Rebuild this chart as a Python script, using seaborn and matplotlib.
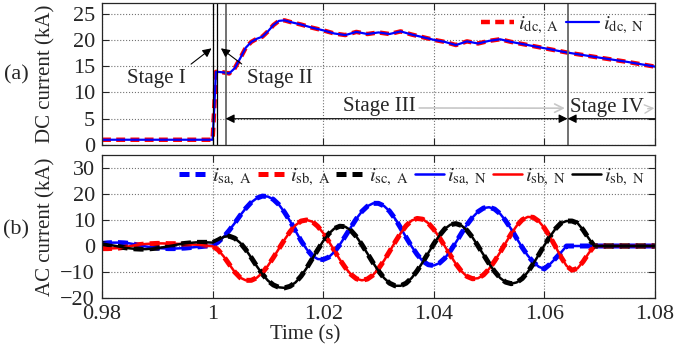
import numpy as np
import pandas as pd
import matplotlib
matplotlib.use('Agg')
import matplotlib.pyplot as plt
import seaborn as sns

# DC current (kA)
dc_time = [0.98, 0.99, 1.0, 1.0003, 1.0006, 1.001, 1.002, 1.003, 1.004, 1.005, 1.006,
           1.007, 1.008, 1.009, 1.010, 1.011, 1.012, 1.013, 1.014, 1.016, 1.018, 1.020,
           1.022, 1.024, 1.026, 1.028, 1.030, 1.032, 1.034, 1.036, 1.038, 1.040, 1.042,
           1.044, 1.046, 1.048, 1.050, 1.052, 1.054, 1.056, 1.058, 1.060, 1.064, 1.070,
           1.075, 1.080]
dc_current = [1.0, 1.0, 1.0, 7.0, 13.9, 13.9, 13.8, 13.6, 14.6, 16.5, 18.5,
              19.6, 20.2, 20.6, 21.6, 22.8, 23.6, 23.7, 23.4, 22.9, 22.3, 21.8,
              21.2, 20.9, 21.5, 21.1, 21.4, 21.1, 21.6, 21.0, 20.5, 20.0, 19.6,
              19.0, 19.7, 19.3, 19.8, 20.1, 19.6, 19.2, 18.8, 18.4, 17.6, 16.6,
              15.8, 14.9]

# AC phase currents (kA), 1 ms samples from 0.98 s to 1.08 s
ac_time = [round(0.98 + 0.001 * k, 3) for k in range(101)]
i_sa = [1.0, 1.2, 1.3, 1.3, 1.2, 1.0, 0.6, 0.2, -0.2, -0.5,
        -0.8, -0.9, -1.0, -1.0, -0.9, -0.8, -0.6, -0.4, -0.2, 0.0,
        0.2, 1.5, 3.5, 6.0, 8.8, 11.8, 14.5, 16.8, 18.4, 19.2,
        19.0, 17.9, 15.9, 13.0, 9.6, 5.8, 2.0, -1.2, -3.7, -5.0,
        -5.2, -4.3, -2.3, 0.5, 3.8, 7.2, 10.5, 13.3, 15.3, 16.4,
        16.4, 15.4, 13.4, 10.5, 7.0, 3.3, -0.2, -3.3, -5.8, -7.2,
        -7.5, -6.6, -4.7, -1.9, 1.4, 4.9, 8.2, 11.0, 13.2, 14.6,
        14.9, 14.2, 12.4, 9.7, 6.5, 2.9, -0.6, -3.7, -6.2, -8.0,
        -8.8, -7.0, -4.8, -2.5, 0.0, 0.0, 0.0, 0.0, 0.0, 0.0,
        0.0, 0.0, 0.0, 0.0, 0.0, 0.0, 0.0, 0.0, 0.0, 0.0, 0.0]
i_sb = [-1.0, -1.0, -0.9, -0.8, -0.5, -0.1, 0.3, 0.6, 0.8, 0.9,
        1.0, 1.0, 0.9, 0.9, 0.8, 0.7, 0.6, 0.5, 0.3, 0.1,
        -0.1, -1.5, -4.0, -7.0, -10.0, -12.2, -13.2, -13.2, -12.2, -10.3,
        -7.6, -4.4, -1.0, 2.4, 5.5, 8.0, 9.6, 10.0, 9.4, 7.6,
        5.0, 1.8, -1.7, -5.2, -8.3, -10.9, -12.6, -13.2, -12.7, -11.2,
        -8.7, -5.6, -2.1, 1.5, 4.9, 7.8, 9.8, 10.6, 10.3, 8.8,
        6.4, 3.3, -0.1, -3.6, -6.9, -9.7, -11.7, -12.6, -12.4, -11.1,
        -8.8, -5.8, -2.4, 1.2, 4.7, 7.8, 10.1, 11.2, 11.0, 9.5,
        6.9, 3.6, -0.2, -4.2, -7.6, -9.3, -8.6, -6.0, -2.8, 0.0,
        0.0, 0.0, 0.0, 0.0, 0.0, 0.0, 0.0, 0.0, 0.0, 0.0, 0.0]
i_sc = [1.0, 0.6, 0.2, -0.2, -0.6, -0.9, -1.1, -1.2, -1.2, -1.0,
        -0.8, -0.5, -0.1, 0.3, 0.7, 1.0, 1.2, 1.4, 1.4, 1.4,
        1.3, 2.3, 3.5, 3.8, 3.0, 1.2, -1.4, -4.5, -7.8, -10.8,
        -13.3, -15.0, -15.9, -16.1, -15.5, -14.0, -11.6, -8.5, -5.0, -1.5,
        1.9, 4.7, 6.7, 7.6, 7.4, 6.0, 3.6, 0.5, -2.9, -6.4,
        -9.6, -12.3, -14.3, -15.3, -15.3, -14.3, -12.3, -9.5, -6.2, -2.7,
        0.8, 4.0, 6.6, 8.2, 8.6, 7.9, 6.0, 3.3, 0.0, -3.4,
        -6.8, -9.8, -12.3, -13.9, -14.5, -14.0, -12.5, -10.0, -6.8, -3.3,
        0.3, 3.6, 6.6, 8.8, 9.6, 9.6, 8.8, 6.2, 3.0, 0.0,
        0.0, 0.0, 0.0, 0.0, 0.0, 0.0, 0.0, 0.0, 0.0, 0.0, 0.0]

dc_labels = [r'$i_{\mathrm{dc,\ A}}$', r'$i_{\mathrm{dc,\ N}}$']
ac_labels = [r'$i_{\mathrm{sa,\ A}}$', r'$i_{\mathrm{sb,\ A}}$', r'$i_{\mathrm{sc,\ A}}$',
             r'$i_{\mathrm{sa,\ N}}$', r'$i_{\mathrm{sb,\ N}}$', r'$i_{\mathrm{sb,\ N}}$']
stage_lines = [1.0, 1.00084, 1.00235, 1.0642]

sns.set_style('ticks')
plt.rcParams['font.family'] = ['Liberation Serif', 'DejaVu Serif']
plt.rcParams['mathtext.fontset'] = 'stix'
plt.rcParams['font.size'] = 15

dash = (0, (2.0, 1.2))
fig = plt.figure(figsize=(6.76, 3.51), dpi=100)
ax1 = fig.add_axes([0.1509, 0.5869, 0.818, 0.4046])
ax2 = fig.add_axes([0.1509, 0.1510, 0.818, 0.4074])

# panel (a)
df_dc = pd.DataFrame({'t': dc_time, 'i': dc_current})
sns.lineplot(data=df_dc, x='t', y='i', ax=ax1, color='red', lw=3.2, linestyle=dash,
             label=dc_labels[0], sort=False, estimator=None)
sns.lineplot(data=df_dc, x='t', y='i', ax=ax1, color='blue', lw=1.6,
             label=dc_labels[1], sort=False, estimator=None)
for k, x in enumerate(stage_lines):
    ax1.axvline(x, color='black' if k < 2 else '0.4', lw=0.9 if k < 2 else 1.3)

arrow_k = dict(arrowstyle='-|>', color='black', lw=0.8, mutation_scale=13)
ax1.annotate('Stage I', xy=(1.0002, 18.7), xytext=(0.9898, 12.7), ha='center', va='center',
             arrowprops=dict(arrow_k, shrinkA=2, relpos=(0.95, 0.9)))
ax1.annotate('Stage II', xy=(1.0011, 18.7), xytext=(1.0122, 12.7), ha='center', va='center',
             arrowprops=dict(arrow_k, shrinkA=2, relpos=(0.05, 0.9)))
ax1.annotate('', xy=(1.00235, 5), xytext=(1.0642, 5),
             arrowprops=dict(arrowstyle='<|-|>', color='black', lw=0.8, mutation_scale=13,
                             shrinkA=0, shrinkB=0))
ax1.annotate('', xy=(1.0642, 5), xytext=(1.08, 5),
             arrowprops=dict(arrow_k, shrinkA=0, shrinkB=0))
ax1.annotate('Stage III', xy=(1.0637, 7.0), xytext=(1.0302, 7.4), ha='center', va='center',
             arrowprops=dict(arrowstyle='->', color='0.78', lw=1.2, relpos=(1.0, 0.4),
                             shrinkA=0, shrinkB=0))
ax1.annotate('Stage IV', xy=(1.0799, 7.0), xytext=(1.0714, 7.2), ha='center', va='center',
             arrowprops=dict(arrowstyle='->', color='0.78', lw=1.0, relpos=(1.0, 0.4),
                             shrinkA=0, shrinkB=0))

ax1.set_ylim(0, 27)
ax1.set_yticks([0, 5, 10, 15, 20, 25])
ax1.set_xticklabels([])
ax1.set_ylabel('DC current (kA)')
ax1.yaxis.set_label_coords(-0.085, 0.5)
ax1.legend(loc='upper right', bbox_to_anchor=(1.0, 0.99), ncol=2, frameon=False,
           handlelength=1.6, handletextpad=0.2, columnspacing=0.3, borderaxespad=0.1,
           fontsize=15)

# panel (b)
df_ac = pd.DataFrame({'t': ac_time, 'sa': i_sa, 'sb': i_sb, 'sc': i_sc})
colors = ['blue', 'red', 'black']
for col, c, lab in zip(['sa', 'sb', 'sc'], colors, ac_labels[:3]):
    sns.lineplot(data=df_ac, x='t', y=col, ax=ax2, color=c, lw=3.6, linestyle=dash,
                 label=lab, sort=False, estimator=None)
for col, c, lab in zip(['sa', 'sb', 'sc'], colors, ac_labels[3:]):
    sns.lineplot(data=df_ac, x='t', y=col, ax=ax2, color=c, lw=1.8,
                 label=lab, sort=False, estimator=None)

ax2.set_ylim(-20, 35)
ax2.set_yticks([-20, -10, 0, 10, 20, 30])
ax2.set_ylabel('AC current (kA)')
ax2.yaxis.set_label_coords(-0.085, 0.5)
ax2.set_xlabel('Time (s)')
ax2.xaxis.set_label_coords(0.367, -0.19)
ax2.legend(loc='upper right', bbox_to_anchor=(1.0, 0.99), ncol=6, frameon=False,
           handlelength=1.4, handletextpad=0.15, columnspacing=0.3, borderaxespad=0.1,
           fontsize=15)

for ax in (ax1, ax2):
    ax.set_xlim(0.98, 1.08)
    ax.set_xticks([0.98, 1.0, 1.02, 1.04, 1.06, 1.08])
    ax.grid(True, linestyle=':', color='0.45', lw=0.8)
    ax.tick_params(direction='in', top=True, right=True, length=5, width=0.8,
                   labelsize=16, pad=5)
    for s in ax.spines.values():
        s.set_linewidth(0.9)
ax2.set_xticklabels(['0.98', '1', '1.02', '1.04', '1.06', '1.08'])

fig.text(0.024, 1 - 75 / 351, '(a)', ha='center', va='center', fontsize=16)
fig.text(0.024, 1 - 230 / 351, '(b)', ha='center', va='center', fontsize=16)

fig.savefig('out.png', dpi=100)
